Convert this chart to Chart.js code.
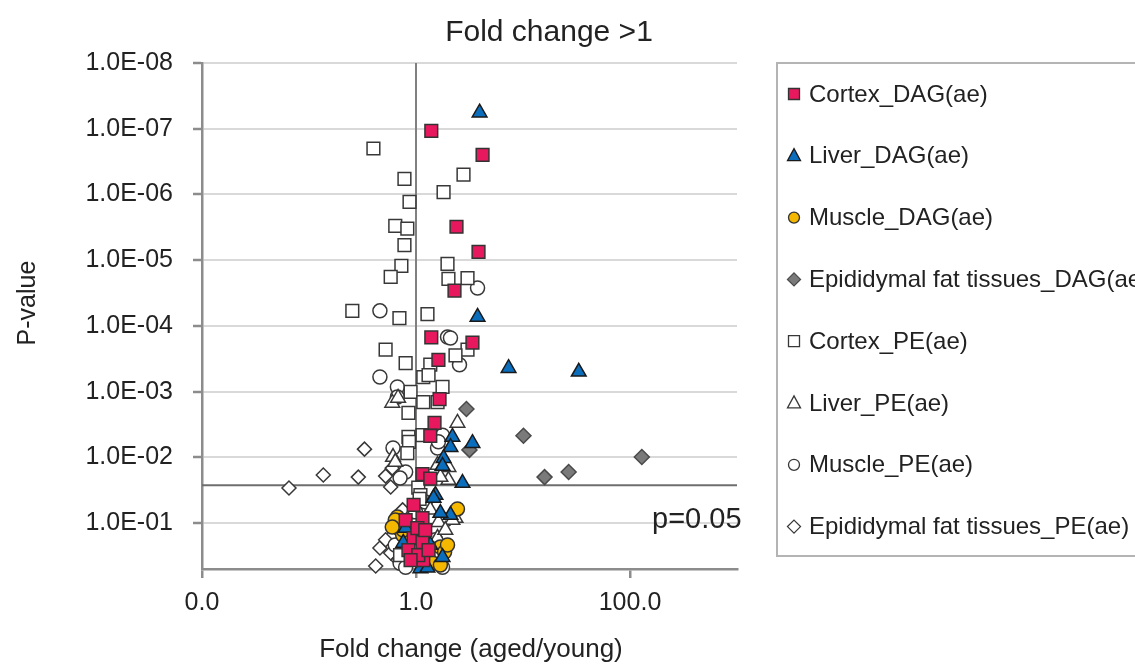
<!DOCTYPE html>
<html>
<head>
<meta charset="utf-8">
<title>Fold change &gt;1</title>
<script src="https://cdn.jsdelivr.net/npm/chart.js@4.4.1/dist/chart.umd.min.js"></script>
<style>
    html, body { margin: 0; padding: 0; background: #fff; overflow: hidden; }
    #wrap { position: relative; width: 1135px; height: 664px; }
</style>
</head>
<body>
<div id="wrap"><canvas id="volcanoChart" width="1135" height="664"></canvas></div>
<script>
// ==================== Data (fold change aged/young, p-value) ====================

const cortexDagFold = [1.39, 4.19, 2.39, 3.84, 2.29, 1.39, 3.37, 1.62, 1.66, 1.49, 1.36, 1.15, 1.36, 1.15, 0.80, 0.95, 1.15, 0.85, 1.17, 1.03, 1.05, 0.95, 1.22, 0.89, 1.31];
const cortexDagP = [1.08e-7, 2.5e-7, 3.1e-6, 7.5e-6, 2.9e-5, 1.5e-4, 1.8e-4, 3.3e-4, 1.3e-3, 3.0e-3, 4.7e-3, 0.018, 0.021, 0.084, 0.090, 0.169, 0.195, 0.258, 0.366, 0.119, 0.307, 0.053, 0.128, 0.366, 0.258];

const liverDagFold = [3.93, 3.76, 7.33, 33.2, 2.19, 3.37, 2.10, 1.81, 1.77, 2.72, 1.52, 1.46, 2.10, 1.69, 0.76, 1.77, 1.10, 1.28, 0.80, 1.36];
const liverDagP = [5.7e-8, 7.3e-5, 4.4e-4, 5.0e-4, 4.9e-3, 6.1e-3, 7.0e-3, 0.0103, 0.0136, 0.0246, 0.0375, 0.0416, 0.0756, 0.0705, 0.201, 0.33, 0.49, 0.48, 0.119, 0.216];

const muscleDagFold = [2.44, 0.67, 0.68, 0.75, 1.69, 1.43, 1.69, 0.64, 1.85, 0.76, 0.60, 1.97];
const muscleDagP = [0.061, 0.081, 0.10, 0.152, 0.232, 0.406, 0.435, 0.090, 0.276, 0.128, 0.115, 0.216];

const fatDagFold = [2.96, 10.1, 3.16, 129, 15.9, 26.7];
const fatDagP = [1.84e-3, 4.7e-3, 7.7e-3, 9.9e-3, 0.020, 0.0167];

const cortexPeFold = [0.40, 2.78, 0.78, 1.81, 0.87, 0.64, 0.83, 0.78, 1.97, 0.73, 0.58, 2.01, 3.03, 0.254, 0.70, 1.28, 3.03, 0.52, 2.34, 0.80, 1.36, 1.17, 1.31, 1.77, 0.89, 1.17, 1.59, 0.85, 0.85, 0.86, 0.83, 1.15, 1.05, 1.10, 1.08, 0.93, 0.71];
const cortexPeP = [2.0e-7, 5.0e-7, 5.8e-7, 9.2e-7, 1.3e-6, 3.0e-6, 3.3e-6, 5.9e-6, 1.14e-5, 1.22e-5, 1.8e-5, 1.93e-5, 1.87e-5, 5.9e-5, 7.6e-5, 6.6e-5, 2.3e-4, 2.3e-4, 2.8e-4, 3.7e-4, 3.9e-4, 6.0e-4, 5.6e-4, 8.5e-4, 1.01e-3, 1.44e-3, 1.44e-3, 2.1e-3, 4.9e-3, 5.8e-3, 8.6e-3, 4.6e-3, 0.029, 0.0375, 0.043, 0.107, 0.307];

const liverPeFold = [0.60, 0.68, 2.44, 0.61, 0.64, 1.59, 2.01, 2.01, 1.69, 1.12, 1.62, 2.34, 1.59, 2.19, 1.36, 1.88, 1.00];
const liverPeP = [1.49e-3, 1.25e-3, 3.0e-3, 9.9e-3, 0.0118, 0.0131, 0.0141, 0.0222, 0.020, 0.040, 0.097, 0.084, 0.169, 0.090, 0.063, 0.128, 0.24];

const musclePeFold = [3.76, 0.46, 1.97, 2.10, 2.55, 0.46, 0.67, 0.67, 1.77, 0.61, 1.59, 1.62, 0.80, 0.71, 1.22, 1.52, 0.71, 1.77, 0.80, 0.99, 0.64, 1.10, 1.88, 0.89];
const musclePeP = [2.65e-5, 5.9e-5, 1.48e-4, 1.53e-4, 3.9e-4, 6.0e-4, 8.5e-4, 1.21e-3, 4.6e-3, 7.2e-3, 7.2e-3, 5.8e-3, 0.0167, 0.0207, 0.048, 0.18, 0.41, 0.47, 0.47, 0.068, 0.216, 0.286, 0.090, 0.128];

const fatPeFold = [0.33, 0.136, 0.289, 0.52, 0.58, 0.60, 0.065, 0.75, 0.58, 0.46, 0.58, 0.42, 0.67, 0.52, 0.68];
const fatPeP = [7.5e-3, 0.0186, 0.020, 0.0193, 0.0283, 0.0146, 0.0293, 0.063, 0.163, 0.24, 0.286, 0.45, 0.107, 0.18, 0.366];

// axis ticks and reference lines
const xTickValues = [0.01, 1, 100];
const yTickValues = [1e-8, 1e-7, 1e-6, 1e-5, 1e-4, 1e-3, 1e-2, 1e-1];
const unityFold = 1;
const cutoffLineP = 0.0265;   // where the "p=0.05" line sits in the figure
const cutoffLabel = 'p=0.05';

const FONT = "'Liberation Sans', Arial, sans-serif";
const TEXT_COLOR = '#222';
const AXIS_COLOR = '#8c8c8c';

// ==================== Series ====================

function pairs(folds, pvals) {
    return folds.map((f, i) => ({ x: f, y: pvals[i] }));
}

const series = [
    { label: 'Cortex_DAG(ae)', data: pairs(cortexDagFold, cortexDagP), style: 'rect', fill: '#e8185e', edge: '#333', radius: 9 },
    { label: 'Liver_DAG(ae)', data: pairs(liverDagFold, liverDagP), style: 'triangle', fill: '#0a6ebd', edge: '#1a1a1a', radius: 8.5 },
    { label: 'Muscle_DAG(ae)', data: pairs(muscleDagFold, muscleDagP), style: 'circle', fill: '#f5b800', edge: '#333', radius: 7 },
    { label: 'Epididymal fat tissues_DAG(ae)', data: pairs(fatDagFold, fatDagP), style: 'rectRot', fill: '#7a7a7a', edge: '#4a4a4a', radius: 7.5 },
    { label: 'Cortex_PE(ae)', data: pairs(cortexPeFold, cortexPeP), style: 'rect', fill: '#ffffff', edge: '#383838', radius: 9 },
    { label: 'Liver_PE(ae)', data: pairs(liverPeFold, liverPeP), style: 'triangle', fill: '#ffffff', edge: '#383838', radius: 8.5 },
    { label: 'Muscle_PE(ae)', data: pairs(musclePeFold, musclePeP), style: 'circle', fill: '#ffffff', edge: '#383838', radius: 7 },
    { label: 'Epididymal fat tissues_PE(ae)', data: pairs(fatPeFold, fatPeP), style: 'rectRot', fill: '#ffffff', edge: '#383838', radius: 7 }
];

const pointDatasets = series.map(s => ({
    label: s.label,
    data: s.data,
    pointStyle: s.style,
    pointRadius: s.radius,
    pointBackgroundColor: s.fill,
    pointBorderColor: s.edge,
    pointBorderWidth: 1.5,
    showLine: false,
    clip: false,
    order: 1
}));

const lineDatasets = [
    {
        label: 'fold = 1',
        data: [{ x: unityFold, y: 1e-8 }, { x: unityFold, y: 0.5 }],
        showLine: true, pointRadius: 0, borderColor: '#808080', borderWidth: 2, order: 10
    },
    {
        label: cutoffLabel,
        data: [{ x: 0.01, y: cutoffLineP }, { x: 1000, y: cutoffLineP }],
        showLine: true, pointRadius: 0, borderColor: '#6e6e6e', borderWidth: 2, order: 10
    }
];

// ==================== Text + legend overlay ====================

function drawMarker(ctx, style, x, y, r) {
    ctx.beginPath();
    if (style === 'rect') {
        ctx.rect(x - r, y - r, 2 * r, 2 * r);
    } else if (style === 'triangle') {
        ctx.moveTo(x, y - r * 1.1);
        ctx.lineTo(x + r, y + r * 0.75);
        ctx.lineTo(x - r, y + r * 0.75);
        ctx.closePath();
    } else if (style === 'circle') {
        ctx.arc(x, y, r, 0, Math.PI * 2);
    } else {
        ctx.moveTo(x, y - r);
        ctx.lineTo(x + r, y);
        ctx.lineTo(x, y + r);
        ctx.lineTo(x - r, y);
        ctx.closePath();
    }
    ctx.fill();
    ctx.stroke();
}

const overlayPlugin = {
    id: 'overlay',
    afterDraw(chart) {
        const ctx = chart.ctx;
        const area = chart.chartArea;
        ctx.save();
        ctx.fillStyle = TEXT_COLOR;

        // title
        ctx.font = '30px ' + FONT;
        ctx.textAlign = 'center';
        ctx.textBaseline = 'middle';
        ctx.fillText('Fold change >1', 549, 33);

        // axis titles
        ctx.font = '26px ' + FONT;
        ctx.fillText('Fold change (aged/young)', 471, 650);
        ctx.save();
        ctx.translate(28, 303);
        ctx.rotate(-Math.PI / 2);
        ctx.font = '25px ' + FONT;
        ctx.fillText('P-value', 0, 0);
        ctx.restore();

        // cutoff label
        ctx.font = '29px ' + FONT;
        ctx.textAlign = 'left';
        ctx.textBaseline = 'alphabetic';
        ctx.fillText(cutoffLabel, 652, 528);

        // legend box (runs off the right edge, as in the figure)
        ctx.strokeStyle = '#b4b4b4';
        ctx.lineWidth = 2;
        ctx.strokeRect(777, area.top, 420, 493);

        ctx.font = '24px ' + FONT;
        ctx.textBaseline = 'middle';
        series.forEach((s, i) => {
            const y = 94 + i * 61.8;
            ctx.fillStyle = s.fill;
            ctx.strokeStyle = s.edge;
            ctx.lineWidth = 1.3;
            const r = s.style === 'rect' ? 5.5 : s.style === 'circle' ? 5.5 : 6.5;
            drawMarker(ctx, s.style, 794, y, r);
            ctx.fillStyle = TEXT_COLOR;
            ctx.fillText(s.label, 809, y + 1);
        });
        ctx.restore();
    }
};

// ==================== Chart ====================

function formatP(v) {
    const e = Math.round(Math.log10(v));
    return '1.0E' + (e < 0 ? '-' : '+') + String(Math.abs(e)).padStart(2, '0');
}

new Chart(document.getElementById('volcanoChart'), {
    type: 'scatter',
    data: { datasets: pointDatasets.concat(lineDatasets) },
    options: {
        responsive: false,
        animation: false,
        devicePixelRatio: 1,
        layout: { padding: { top: 63, right: 398, left: 0, bottom: 0 } },
        plugins: {
            legend: { display: false },
            tooltip: { enabled: false },
            title: { display: false }
        },
        scales: {
            x: {
                type: 'logarithmic',
                min: 0.01,
                max: 1000,
                afterBuildTicks: scale => { scale.ticks = xTickValues.map(v => ({ value: v })); },
                afterFit: scale => { scale.height = 95; },
                ticks: {
                    callback: v => Number(v).toFixed(1),
                    font: { family: FONT, size: 25 },
                    color: TEXT_COLOR,
                    padding: 10,
                    maxRotation: 0,
                    autoSkip: false
                },
                grid: { drawOnChartArea: false, tickLength: 9, color: AXIS_COLOR, lineWidth: 2.5 },
                border: { color: AXIS_COLOR, width: 2.5 }
            },
            y: {
                type: 'logarithmic',
                reverse: true,
                min: 1e-8,
                max: 0.5,
                afterBuildTicks: scale => { scale.ticks = yTickValues.map(v => ({ value: v })); },
                afterFit: scale => { scale.width = 202; },
                ticks: {
                    callback: v => formatP(v),
                    font: { family: FONT, size: 25 },
                    color: TEXT_COLOR,
                    padding: 20,
                    autoSkip: false
                },
                grid: { color: '#d9d9d9', lineWidth: 2, tickColor: AXIS_COLOR, tickLength: 9, tickWidth: 2.5 },
                border: { color: AXIS_COLOR, width: 2.5 }
            }
        }
    },
    plugins: [overlayPlugin]
});
</script>
</body>
</html>
